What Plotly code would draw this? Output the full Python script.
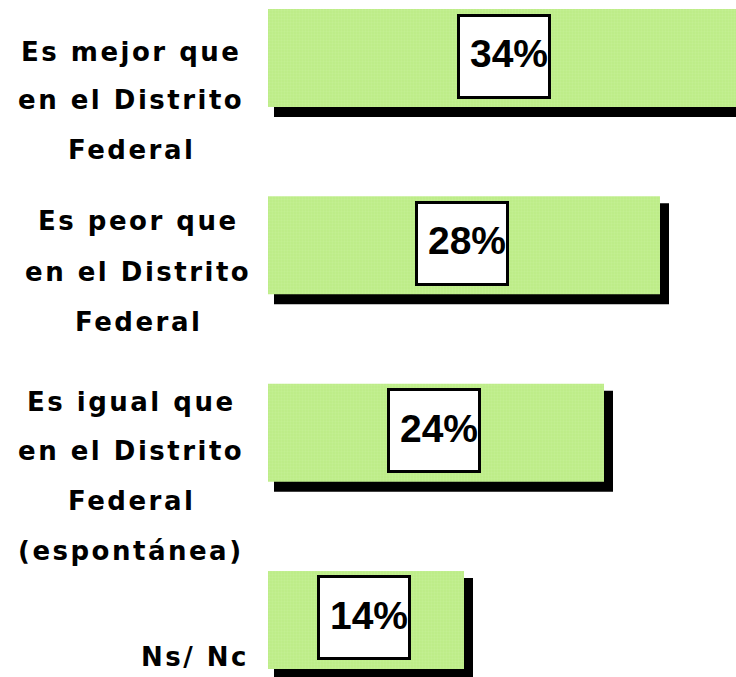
import plotly.graph_objects as go

# ---------------- data ----------------
categories = [
    "Es mejor que|en el Distrito|Federal",
    "Es peor que|en el Distrito|Federal",
    "Es igual que|en el Distrito|Federal|(espontánea)",
    "Ns/ Nc",
]
values = [34, 28, 24, 14]
value_labels = ["34%", "28%", "24%", "14%"]

# ---------------- layout constants ----------------
W, H = 736, 677
PLOT_LEFT = 268
PX_PER_UNIT = 14.0
X_MAX = (W - PLOT_LEFT) / PX_PER_UNIT
CAT_PX = 187.33          # pixel distance between category centres
FIRST_CENTER_PX = 58     # pixel y of first category centre
Y_TOP = -FIRST_CENTER_PX / CAT_PX
Y_BOTTOM = (H - FIRST_CENTER_PX) / CAT_PX

BAR_W = 98 / CAT_PX
BAR_OFF = -BAR_W / 2
SH_DX0 = 6 / PX_PER_UNIT   # shadow left shift
SH_DX1 = 9 / PX_PER_UNIT   # shadow right shift
SH_W = 101 / CAT_PX
SH_OFF = BAR_OFF + 7 / CAT_PX

GREEN = "#bcec86"
LABEL_FONT = dict(family="DejaVu Sans, sans-serif", size=26, color="black", weight="bold")
PCT_FONT = dict(family="Liberation Sans, Arial, sans-serif", size=39, color="black", weight="bold")

# pixel centres of each label line and horizontal centre of each label block
label_line_px = [[52, 100, 150], [221, 272, 322], [402, 451, 501, 551], [657]]
label_center_px = [130, 137, 130, None]
label_right_px = [None, None, None, 251]

fig = go.Figure()

# shadow bars
fig.add_trace(go.Bar(
    y=categories,
    x=[v + SH_DX1 - SH_DX0 for v in values],
    base=[SH_DX0] * len(values),
    orientation="h",
    width=SH_W,
    offset=SH_OFF,
    marker=dict(color="black", line=dict(width=0)),
    hoverinfo="skip",
    showlegend=False,
))

# green bars
fig.add_trace(go.Bar(
    y=categories,
    x=values,
    orientation="h",
    width=BAR_W,
    offset=BAR_OFF,
    marker=dict(
        color=GREEN,
        line=dict(width=0),
        pattern=dict(shape=".", fgcolor="#c9f19e", size=3, solidity=0.45),
    ),
    hoverinfo="skip",
    showlegend=False,
))

annotations = []
# value boxes (white bordered box) + value text
for cat, v, lab in zip(categories, values, value_labels):
    annotations.append(dict(
        x=v / 2, y=cat, xref="x", yref="y",
        text="&nbsp;", showarrow=False,
        xshift=-2.5, yshift=2,
        width=88, height=79,
        bgcolor="white", bordercolor="black", borderwidth=3, borderpad=0,
        font=PCT_FONT,
    ))
    annotations.append(dict(
        x=v / 2, y=cat, xref="x", yref="y",
        text=lab, showarrow=False,
        xshift=-2.0, yshift=5,
        width=88, height=60, align="right", valign="middle",
        borderpad=0, font=PCT_FONT,
    ))

# category labels, one annotation per line
for cat, lines_px, cx, rx in zip(categories, label_line_px, label_center_px, label_right_px):
    for line, py in zip(cat.split("|"), lines_px):
        txt = f"<span style='letter-spacing:2.5px'>{line}</span>"
        if cx is not None:
            annotations.append(dict(
                x=(cx + 1) / W, y=1 - py / H, xref="paper", yref="paper",
                xanchor="center", yanchor="middle",
                text=txt, showarrow=False, font=LABEL_FONT,
            ))
        else:
            annotations.append(dict(
                x=rx / W, y=1 - py / H, xref="paper", yref="paper",
                xanchor="right", yanchor="middle",
                text=txt, showarrow=False, font=LABEL_FONT,
            ))

fig.update_layout(
    width=W, height=H, autosize=False,
    margin=dict(l=0, r=0, t=0, b=0, pad=0),
    paper_bgcolor="white", plot_bgcolor="white",
    barmode="overlay",
    xaxis=dict(domain=[PLOT_LEFT / W, 1], range=[0, X_MAX], visible=False, fixedrange=True),
    yaxis=dict(range=[Y_BOTTOM, Y_TOP], visible=False, fixedrange=True,
               type="category", categoryorder="array", categoryarray=categories),
    annotations=annotations,
    showlegend=False,
)

fig.write_html(
    "out.html",
    config={"displayModeBar": False},
    post_script="document.body.style.margin='0';document.body.style.padding='0';",
)
